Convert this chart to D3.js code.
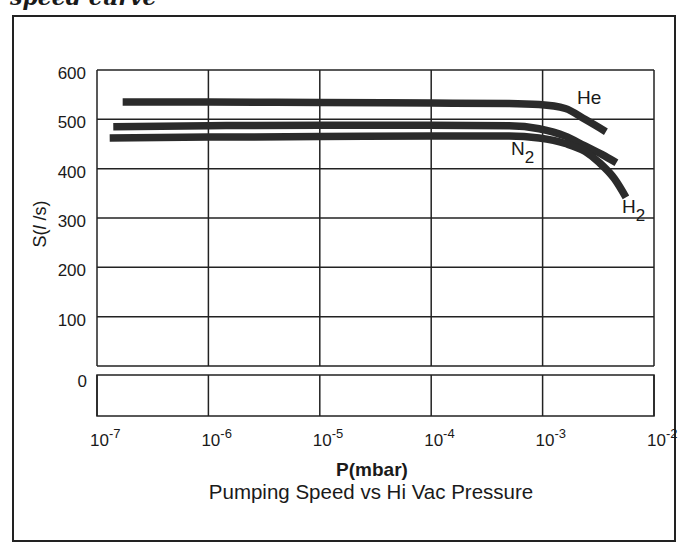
<!DOCTYPE html>
<html>
<head>
<meta charset="utf-8">
<script src="https://cdn.jsdelivr.net/npm/d3@7"></script>
<style>
  body { margin: 0; background: #fff; }
  svg { display: block; }
  text { font-family: "Liberation Sans", Arial, sans-serif; fill: #1a1a1a; }
</style>
</head>
<body>
<svg></svg>
<script>
// data
const xTicks = [1e-7, 1e-6, 1e-5, 1e-4, 1e-3, 1e-2];
const xTickExp = ["-7", "-6", "-5", "-4", "-3", "-2"];
const yTicks = [0, 100, 200, 300, 400, 500, 600];

const heP = [1.7e-7, 1e-6, 1e-5, 1e-4, 5e-4, 9.3e-4, 1.6e-3, 2.4e-3, 3.7e-3];
const heS = [535, 535, 534, 533, 532, 530, 522, 500, 475];

const n2P = [1.4e-7, 1e-6, 1e-5, 1e-4, 5e-4, 9.3e-4, 1.6e-3, 2.4e-3, 3.4e-3, 4.6e-3];
const n2S = [485, 487, 488, 488, 487, 481, 466, 446, 429, 412];

const h2P = [1.3e-7, 1e-6, 1e-5, 1e-4, 5e-4, 9.3e-4, 1.6e-3, 2.4e-3, 3.2e-3, 4.4e-3, 5.6e-3];
const h2S = [462, 464, 465, 466, 466, 462, 451, 435, 413, 380, 342];

const W = 680, H = 546;
const plotL = 97, plotR = 654, plotT = 70, zeroY = 366;
const lowTop = 375, lowBot = 416;

const svg = d3.select("svg").attr("width", W).attr("height", H);

// heading from the page above, cut by the top edge as in the scan
svg.append("text")
  .attr("x", 10).attr("y", 5)
  .style("font-family", "'DejaVu Serif', 'Liberation Serif', serif")
  .style("font-style", "italic").style("font-weight", "bold")
  .style("font-size", "22px")
  .text("speed curve");

// outer frame
svg.append("rect")
  .attr("x", 13).attr("y", 16).attr("width", 662).attr("height", 525)
  .attr("fill", "none").attr("stroke", "#222").attr("stroke-width", 2);

const x = d3.scaleLog().domain([1e-7, 1e-2]).range([plotL, plotR]);
const y = d3.scaleLinear().domain([0, 600]).range([zeroY, plotT]);

// upper grid
const grid = svg.append("g").attr("stroke", "#222").attr("stroke-width", 1.5).attr("fill", "none");
grid.selectAll(".hl").data(yTicks).join("line")
  .attr("x1", plotL).attr("x2", plotR)
  .attr("y1", d => y(d)).attr("y2", d => y(d));
grid.selectAll(".vl").data(xTicks).join("line")
  .attr("x1", d => x(d)).attr("x2", d => x(d))
  .attr("y1", plotT).attr("y2", zeroY);

// lower strip
grid.append("rect")
  .attr("x", plotL).attr("y", lowTop)
  .attr("width", plotR - plotL).attr("height", lowBot - lowTop);
grid.selectAll(".vl2").data(xTicks).join("line")
  .attr("x1", d => x(d)).attr("x2", d => x(d))
  .attr("y1", lowTop).attr("y2", lowBot);

// y tick labels
svg.selectAll(".ylab").data(yTicks.filter(d => d > 0)).join("text")
  .attr("x", 86).attr("y", d => y(d) + 3).attr("dy", "0.36em")
  .attr("text-anchor", "end").style("font-size", "17px")
  .text(d => d);
svg.append("text")
  .attr("x", 87).attr("y", lowTop + 6).attr("dy", "0.36em")
  .attr("text-anchor", "end").style("font-size", "17px")
  .text("0");

// x tick labels 10^n
const xl = svg.selectAll(".xlab").data(xTicks).join("text")
  .attr("x", d => x(d) - 7).attr("y", 446)
  .style("font-size", "17px");
xl.append("tspan").text("10");
xl.append("tspan").attr("dy", -8).style("font-size", "13px").text((d, i) => xTickExp[i]);

// axis titles
svg.append("text")
  .attr("transform", "translate(46,224) rotate(-90)")
  .attr("text-anchor", "middle").style("font-size", "18px")
  .call(t => {
    t.append("tspan").text("S(");
    t.append("tspan").style("font-style", "italic").text("l");
    t.append("tspan").text(" /s)");
  });

svg.append("text")
  .attr("x", 372).attr("y", 476)
  .attr("text-anchor", "middle").style("font-size", "19px").style("font-weight", "bold")
  .text("P(mbar)");
svg.append("text")
  .attr("x", 371).attr("y", 499)
  .attr("text-anchor", "middle").style("font-size", "20.5px")
  .text("Pumping Speed vs Hi Vac Pressure");

// curves
const line = d3.line()
  .x(d => x(d[0]))
  .y(d => y(d[1]))
  .curve(d3.curveMonotoneX);

const series = [
  { key: "He", pts: d3.zip(heP, heS) },
  { key: "N2", pts: d3.zip(n2P, n2S) },
  { key: "H2", pts: d3.zip(h2P, h2S) }
];

svg.selectAll(".curve").data(series).join("path")
  .attr("class", "curve")
  .attr("fill", "none")
  .attr("stroke", "#2b2b2b")
  .attr("stroke-width", 7.5)
  .attr("d", d => line(d.pts));

// curve labels
function gasLabel(txt, sub, lx, ly) {
  const t = svg.append("text").attr("x", lx).attr("y", ly).style("font-size", "19px");
  t.append("tspan").text(txt);
  if (sub) t.append("tspan").attr("dy", 8).style("font-size", "17px").text(sub);
}
gasLabel("He", null, 577, 104);
gasLabel("N", "2", 511, 155);
gasLabel("H", "2", 622, 213);
</script>
</body>
</html>
